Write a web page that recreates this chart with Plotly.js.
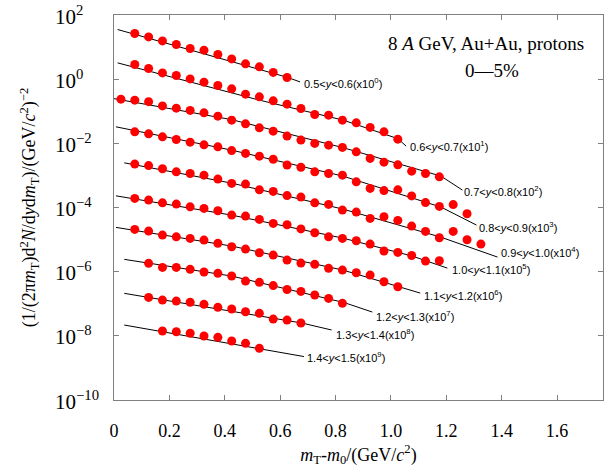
<!DOCTYPE html>
<html><head><meta charset="utf-8">
<script src="https://cdn.plot.ly/plotly-3.0.1.min.js"></script>
<style>html,body{margin:0;padding:0;background:#fff}#chart{width:610px;height:468px}</style>
</head><body><div id="chart"></div>
<script>
// Rapidity bins and scale exponents
const yLow = ['0.5','0.6','0.7','0.8','0.9','1.0','1.1','1.2','1.3','1.4'];
const yHigh = ['0.6','0.7','0.8','0.9','1.0','1.1','1.2','1.3','1.4','1.5'];
const scaleExp = ['0','1','2','3','4','5','6','7','8','9'];

// Data points (mT - m0, scaled spectra)
const s1x = [0.075,0.125,0.175,0.225,0.275,0.325,0.375,0.425,0.475,0.525,0.575,0.625];
const s1y = [26.5,20.8,15.6,12.0,9.04,8.0,5.88,4.29,3.0,2.42,1.62,1.13];
const s2x = [0.075,0.125,0.175,0.225,0.275,0.325,0.375,0.425,0.475,0.525,0.575,0.625,0.675,0.725,0.775,0.825,0.875,0.925,0.975,1.025];
const s2y = [2.87,2.15,1.57,1.30,1.02,0.807,0.637,0.499,0.341,0.281,0.211,0.166,0.122,0.0794,0.0757,0.0528,0.0436,0.0313,0.0228,0.0135];
const s3x = [0.025,0.075,0.125,0.175,0.225,0.275,0.325,0.375,0.425,0.475,0.525,0.575,0.625,0.675,0.725,0.775,0.825,0.875,0.925,0.975,1.025,1.075,1.125,1.175];
const s3y = [0.238,0.222,0.199,0.147,0.125,0.106,0.0891,0.0703,0.0528,0.0405,0.0304,0.0240,0.0168,0.0126,0.00993,0.00879,0.00745,0.00543,0.00339,0.00259,0.00214,0.00136,0.00115,0.000904];
const s4x = [0.075,0.125,0.175,0.225,0.275,0.325,0.375,0.425,0.475,0.525,0.575,0.625,0.675,0.725,0.775,0.825,0.875,0.925,0.975,1.025,1.075,1.125,1.175,1.225,1.275];
const s4y = [0.0228,0.0198,0.0159,0.0132,0.0109,0.00897,0.00778,0.00593,0.00484,0.00399,0.00318,0.00212,0.00179,0.00129,0.00115,0.00102,0.000632,0.000394,0.000336,0.000356,0.000230,0.000142,0.000108,0.000123,0.0000637];
const s5x = [0.075,0.125,0.175,0.225,0.275,0.325,0.375,0.425,0.475,0.525,0.575,0.625,0.675,0.725,0.775,0.825,0.875,0.925,0.975,1.025,1.075,1.125,1.175,1.225,1.275,1.325];
const s5y = [0.00225,0.00202,0.00161,0.00129,0.00115,0.00102,0.000767,0.000564,0.000536,0.000356,0.000318,0.000235,0.000211,0.000140,0.000125,0.0000830,0.0000719,0.0000457,0.0000513,0.0000396,0.0000264,0.0000180,0.0000114,0.0000180,0.00000986,0.00000724];
const s6x = [0.075,0.125,0.175,0.225,0.275,0.325,0.375,0.425,0.475,0.525,0.575,0.625,0.675,0.725,0.775,0.825,0.875,0.925,0.975,1.025,1.075,1.125,1.175];
const s6y = [1.92e-4,1.70e-4,1.40e-4,1.28e-4,1.05e-4,9.38e-5,7.89e-5,5.79e-5,5.40e-5,4.26e-5,3.20e-5,2.89e-5,2.15e-5,1.63e-5,1.22e-5,1.09e-5,9.18e-6,7.24e-6,4.39e-6,3.99e-6,3.18e-6,2.14e-6,2.19e-6];
const s7x = [0.075,0.125,0.175,0.225,0.275,0.325,0.375,0.425,0.475,0.525,0.575,0.625,0.675,0.725,0.775,0.825,0.875,0.925,0.975,1.025];
const s7y = [2.08e-5,1.84e-5,1.38e-5,1.22e-5,1.09e-5,9.64e-6,7.62e-6,5.97e-6,5.06e-6,3.88e-6,3.29e-6,2.30e-6,1.85e-6,1.69e-6,1.27e-6,1.12e-6,9.25e-7,7.83e-7,4.84e-7,3.39e-7];
const s8x = [0.125,0.175,0.225,0.275,0.325,0.375,0.425,0.475,0.525,0.575,0.625,0.675,0.725,0.775,0.825];
const s8y = [1.82e-6,1.36e-6,1.36e-6,1.18e-6,9.73e-7,8.85e-7,7.30e-7,5.09e-7,4.65e-7,3.69e-7,2.77e-7,2.43e-7,1.87e-7,1.47e-7,1.03e-7];
const s9x = [0.125,0.175,0.225,0.275,0.325,0.375,0.425,0.475,0.525,0.575,0.625,0.675];
const s9y = [1.58e-7,1.30e-7,1.21e-7,1.11e-7,9.57e-8,7.73e-8,6.84e-8,5.64e-8,5.02e-8,3.33e-8,3.10e-8,2.51e-8];
const s10x = [0.175,0.225,0.275,0.325,0.375,0.425,0.475,0.525];
const s10y = [1.41e-8,1.34e-8,1.20e-8,9.86e-9,8.97e-9,6.89e-9,5.83e-9,4.08e-9];

// Fit curves
const f1x = [0.013,0.325,0.625,0.672];  const f1y = [35.3,6.0,1.15,0.82];
const f2x = [0.013,0.525,0.828,1.025,1.055]; const f2y = [3.22,0.222,0.0528,0.0140,0.0082];
const f3x = [0.0,0.425,0.827,1.181,1.258]; const f3y = [0.247,0.0547,0.00734,0.00095,0.00035];
const f4x = [0.007,0.425,0.827,1.181,1.309]; const f4y = [0.0327,0.00614,0.000951,0.000103,2.83e-5];
const f5x = [0.037,0.425,0.827,1.179,1.385]; const f5y = [0.00247,0.000575,8.91e-5,1.20e-5,2.85e-6];
const f6x = [0.007,0.425,0.827,1.077,1.204]; const f6y = [2.31e-4,5.79e-5,1.11e-5,3.06e-6,1.29e-6];
const f7x = [0.007,0.425,0.827,1.026,1.106]; const f7y = [2.40e-5,6.28e-6,1.12e-6,3.56e-7,2.15e-7];
const f8x = [0.037,0.425,0.831,0.933]; const f8y = [2.42e-6,7.30e-7,1.09e-7,5.51e-8];
const f9x = [0.037,0.425,0.678,0.786]; const f9y = [2.11e-7,5.71e-8,2.51e-8,1.52e-8];
const f10x = [0.037,0.425,0.526,0.686]; const f10y = [2.17e-8,5.75e-9,4.02e-9,2.26e-9];

// Tick labels
const xTickVals = [0,0.2,0.4,0.6,0.8,1.0,1.2,1.4,1.6];
const xTickText = ['0','0.2','0.4','0.6','0.8','1.0','1.2','1.4','1.6'];
const yTickExp = [2,0,-2,-4,-6,-8,-10];
const yTickText = ['10<sup>2</sup>','10<sup>0</sup>','10<sup>\u22122</sup>','10<sup>\u22124</sup>','10<sup>\u22126</sup>','10<sup>\u22128</sup>','10<sup>\u221210</sup>'];

const ptsX = [s1x,s2x,s3x,s4x,s5x,s6x,s7x,s8x,s9x,s10x];
const ptsY = [s1y,s2y,s3y,s4y,s5y,s6y,s7y,s8y,s9y,s10y];
const fitX = [f1x,f2x,f3x,f4x,f5x,f6x,f7x,f8x,f9x,f10x];
const fitY = [f1y,f2y,f3y,f4y,f5y,f6y,f7y,f8y,f9y,f10y];

// Layout: label anchor positions (x, log10 y)
const labelPos = [[0.680,-0.125],[1.060,-2.087],[1.258,-3.489],[1.312,-4.595],[1.392,-5.380],
                  [1.215,-5.919],[1.113,-6.729],[0.940,-7.383],[0.793,-7.944],[0.691,-8.651]];

const traces = [];
for (let i = 0; i < fitX.length; i++) {
  traces.push({x: fitX[i], y: fitY[i], type: 'scatter', mode: 'lines',
    line: {color: '#000', width: 1}, showlegend: false, hoverinfo: 'skip'});
}
for (let i = 0; i < ptsX.length; i++) {
  traces.push({x: ptsX[i], y: ptsY[i], type: 'scatter', mode: 'markers',
    marker: {color: '#ff0000', size: 9, line: {width: 0}}, showlegend: false});
}

const serif = 'Liberation Serif, Times New Roman, serif';
const annotations = [];
for (let i = 0; i < yLow.length; i++) {
  annotations.push({
    x: labelPos[i][0], y: labelPos[i][1], xref: 'x', yref: 'y',
    xanchor: 'left', yanchor: 'middle', showarrow: false,
    text: yLow[i] + '&lt;<i>y</i>&lt;' + yHigh[i] + '(x10<sup>' + scaleExp[i] + '</sup>)',
    font: {family: 'Liberation Sans, Arial, sans-serif', size: 11, color: '#000'}
  });
}
for (let i = 0; i < yTickExp.length; i++) {
  annotations.push({
    x: -0.1247, y: yTickExp[i], xref: 'paper', yref: 'y',
    xanchor: 'left', yanchor: 'middle', showarrow: false,
    text: yTickText[i], font: {family: serif, size: 21, color: '#000'}
  });
}
annotations.push({x: 0.760, y: 0.925, xref: 'paper', yref: 'paper', xanchor: 'center', yanchor: 'middle',
  showarrow: false, text: '8 <i>A</i> GeV, Au+Au, protons', font: {family: serif, size: 19, color: '#000'}});
annotations.push({x: 0.773, y: 0.857, xref: 'paper', yref: 'paper', xanchor: 'center', yanchor: 'middle',
  showarrow: false, text: '0\u20145%', font: {family: serif, size: 19, color: '#000'}});

const axisCommon = {showline: true, linecolor: '#808080', linewidth: 1, mirror: 'ticks',
  ticks: 'inside', ticklen: 5, tickcolor: '#808080', showgrid: false, zeroline: false};

const layout = {
  width: 610, height: 468,
  margin: {l: 114, r: 7, t: 15, b: 68},
  paper_bgcolor: '#fff', plot_bgcolor: '#fff',
  showlegend: false,
  xaxis: Object.assign({}, axisCommon, {
    range: [0, 1.766], tickvals: xTickVals, ticktext: xTickText,
    tickfont: {family: serif, size: 18, color: '#000'}, ticklabelstandoff: 14,
    title: {text: '<i>m</i><sub>T</sub>-<i>m</i><sub>0</sub>/(GeV/<i>c</i><sup>2</sup>)',
      font: {family: serif, size: 18, color: '#000'}, standoff: 8}
  }),
  yaxis: Object.assign({}, axisCommon, {
    type: 'log', range: [-10, 2], tickvals: [1e2,1,1e-2,1e-4,1e-6,1e-8,1e-10], showticklabels: false,
    title: {text: '(1/(2\u03c0<i>m</i><sub>T</sub>)d<sup>2</sup><i>N</i>/d<i>y</i>d<i>m</i><sub>T</sub>)/(GeV/<i>c</i><sup>2</sup>)<sup>\u22122</sup>',
      font: {family: serif, size: 18, color: '#000'}, standoff: 72}
  }),
  annotations: annotations
};

Plotly.newPlot('chart', traces, layout, {displayModeBar: false, staticPlot: true});
</script>
</body></html>
